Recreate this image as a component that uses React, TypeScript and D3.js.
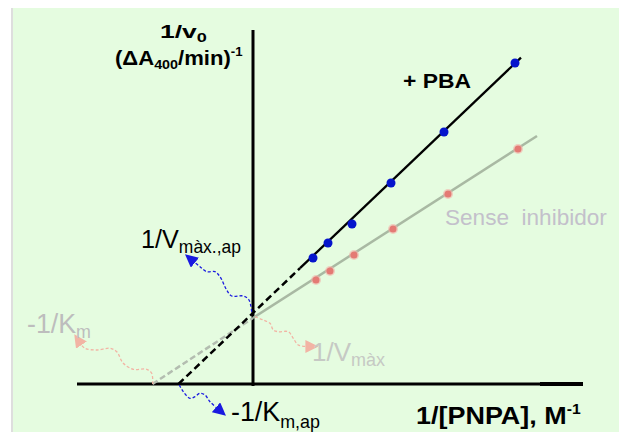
import React, { useLayoutEffect, useRef, useState } from "react";
import * as d3 from "d3";

// ---- data (units of 1/[PNPA] and 1/v0, arbitrary) ----
const blueX = [6.0, 7.5, 9.9, 13.8, 19.1, 26.2];
const blueY = [12.6, 14.1, 16.0, 20.1, 25.2, 32.1];
const redX = [6.3, 7.7, 10.1, 14.0, 19.5, 26.5];
const redY = [10.4, 11.3, 12.9, 15.5, 19.0, 23.5];

// fitted lines: [x, y] pairs
const pbaDashed: [number, number][] = [[-7.45, 0], [4.7, 11.58]];
const pbaSolid: [number, number][] = [[4.7, 11.58], [26.8, 32.64]];
const noInhDashed: [number, number][] = [[-10.05, 0], [0, 6.6]];
const noInhSolid: [number, number][] = [[0, 6.6], [28.4, 24.8]];

// annotation arrows (data units)
const arrowVmaxAp: [number, number][] = [[-0.13, 7.23], [-0.4, 8.4], [-0.97, 8.8], [-2.13, 8.8], [-2.63, 9.4], [-3.3, 10.73], [-3.8, 11.23], [-4.63, 11.23], [-5.3, 11.73], [-6.0, 12.3]];
const arrowKmAp: [number, number][] = [[-7.37, -0.1], [-6.97, -0.77], [-6.3, -1.43], [-5.8, -1.27], [-5.3, -0.93], [-4.8, -1.1], [-4.3, -1.77], [-3.5, -2.5]];
const arrowKm: [number, number][] = [[-10.03, 0], [-10.13, 1.07], [-10.63, 1.47], [-11.97, 1.47], [-12.97, 2.07], [-13.63, 3.23], [-14.3, 3.57], [-15.63, 3.4], [-16.8, 3.57], [-17.3, 4.1]];
const arrowVmax: [number, number][] = [[0.2, 6.73], [1.03, 6.4], [1.7, 6.07], [2.03, 5.4], [2.53, 5.23], [3.53, 5.23], [4.03, 4.57], [4.53, 3.9], [5.5, 3.75]];

const xDomain: [number, number] = [-17.6, 33];
const yDomain: [number, number] = [0, 35.4];

const W = 619;
const H = 432;
const FONT = "'Liberation Sans', Arial, Helvetica, sans-serif";

function Label({ x, y, width, children, ...rest }: any) {
  const ref = useRef<SVGTextElement>(null);
  const [sx, setSx] = useState(1);
  useLayoutEffect(() => {
    if (ref.current) {
      const w = ref.current.getBBox().width;
      if (w > 0) setSx(width / w);
    }
  }, [width]);
  return (
    <text
      ref={ref}
      transform={`translate(${x},${y}) scale(${sx},1)`}
      fontFamily={FONT}
      style={{ whiteSpace: "pre" }}
      {...rest}
    >
      {children}
    </text>
  );
}

export default function App() {
  const x = d3.scaleLinear().domain(xDomain).range([77, 583]);
  const y = d3.scaleLinear().domain(yDomain).range([384, 30]);
  const line = d3.line<[number, number]>().x((d) => x(d[0])).y((d) => y(d[1]));
  const curve = d3
    .line<[number, number]>()
    .x((d) => x(d[0]))
    .y((d) => y(d[1]))
    .curve(d3.curveCatmullRom.alpha(0.5));

  return (
    <svg
      width={W}
      height={H}
      style={{ position: "absolute", left: 0, top: 0, background: "#ffffff" }}
    >
      <defs>
        <marker id="arBlue" viewBox="0 0 10 10" refX="2" refY="5" markerWidth="13" markerHeight="13" markerUnits="userSpaceOnUse" orient="auto">
          <path d="M0,0 L10,5 L0,10 z" fill="#1a1ae0" />
        </marker>
        <marker id="arPink" viewBox="0 0 10 10" refX="2" refY="5" markerWidth="13" markerHeight="13" markerUnits="userSpaceOnUse" orient="auto">
          <path d="M0,0 L10,5 L0,10 z" fill="#f2b4a4" />
        </marker>
      </defs>
      <rect x={11} y={8} width={2} height={H - 8} fill="#dedede" />
      <rect x={13} y={8} width={W - 13} height={H - 8} fill="#e5fce0" />

      {/* axes */}
      <line x1={x(0)} x2={x(0)} y1={y(yDomain[1])} y2={y(0) + 2} stroke="#000" strokeWidth={3} />
      <line x1={x(xDomain[0])} x2={x(xDomain[1])} y1={y(0)} y2={y(0)} stroke="#000" strokeWidth={3} />
      <line x1={x(28.7)} x2={x(xDomain[1])} y1={y(0)} y2={y(0)} stroke="#000" strokeWidth={4} />

      {/* no inhibitor line */}
      <path d={line(noInhDashed) || ""} stroke="#b3bdb0" strokeWidth={2.5} strokeDasharray="6,3" fill="none" />
      <path d={line(noInhSolid) || ""} stroke="#a9b9a3" strokeWidth={2.5} fill="none" />

      {/* PBA line */}
      <path d={line(pbaDashed) || ""} stroke="#000" strokeWidth={2.5} strokeDasharray="7,4" fill="none" />
      <path d={line(pbaSolid) || ""} stroke="#000" strokeWidth={2.3} fill="none" />

      {/* points */}
      {redX.map((v, i) => (
        <g key={"r" + i}>
          <circle cx={x(v)} cy={y(redY[i])} r={5} fill="#f3b0a8" opacity={0.6} />
          <circle cx={x(v)} cy={y(redY[i])} r={3.5} fill="#e47a74" />
        </g>
      ))}
      {blueX.map((v, i) => (
        <circle key={"b" + i} cx={x(v)} cy={y(blueY[i])} r={4.5} fill="#0514cc" />
      ))}

      {/* arrows */}
      <path d={curve(arrowVmaxAp) || ""} stroke="#1a1ae0" strokeWidth={1.3} strokeDasharray="3,2" fill="none" markerEnd="url(#arBlue)" />
      <path d={curve(arrowKmAp) || ""} stroke="#1a1ae0" strokeWidth={1.3} strokeDasharray="3,2" fill="none" markerEnd="url(#arBlue)" />
      <path d={curve(arrowKm) || ""} stroke="#f2b4a4" strokeWidth={1.3} strokeDasharray="3,2" fill="none" markerEnd="url(#arPink)" />
      <path d={curve(arrowVmax) || ""} stroke="#f2b4a4" strokeWidth={1.3} strokeDasharray="3,2" fill="none" markerEnd="url(#arPink)" />

      {/* labels */}
      <Label x={160} y={38} width={47} fontSize={19} fontWeight="bold" fill="#000">
        1/v<tspan fontSize={13} dy={4}>0</tspan>
      </Label>
      <Label x={115} y={65} width={128} fontSize={20} fontWeight="bold" fill="#000">
        (ΔA<tspan fontSize={13} dy={4}>400</tspan>
        <tspan dy={-4}>/min)</tspan>
        <tspan fontSize={12} dy={-9}>-1</tspan>
      </Label>
      <Label x={403} y={88} width={68} fontSize={21} fontWeight="bold" fill="#000">
        + PBA
      </Label>
      <Label x={445} y={225} width={162} fontSize={22} fill="#c3c0cb">
        Sense  inhibidor
      </Label>
      <Label x={141} y={248} width={100} fontSize={26} fill="#000">
        1/V<tspan fontSize={18} dy={5}>màx.,ap</tspan>
      </Label>
      <Label x={27} y={333} width={64} fontSize={27} fill="#bdbdbd">
        -1/K<tspan fontSize={18} dy={5}>m</tspan>
      </Label>
      <Label x={312} y={361} width={73} fontSize={26} fill="#c6c9c4">
        1/V<tspan fontSize={18} dy={5}>màx</tspan>
      </Label>
      <Label x={231} y={421} width={89} fontSize={27} fill="#000">
        -1/K<tspan fontSize={18} dy={7}>m,ap</tspan>
      </Label>
      <Label x={416} y={424} width={165} fontSize={24} fontWeight="bold" fill="#000">
        1/[PNPA], M<tspan fontSize={14} dy={-10}>-1</tspan>
      </Label>
    </svg>
  );
}
